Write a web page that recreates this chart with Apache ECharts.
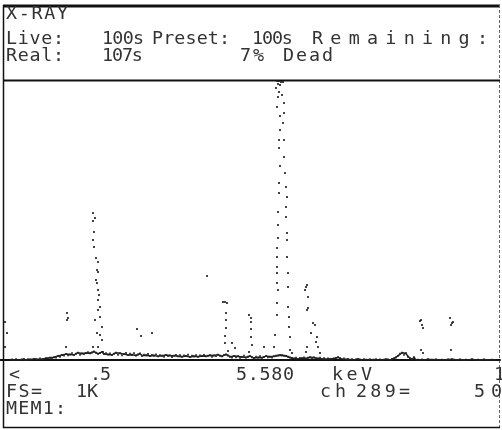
<!DOCTYPE html>
<html>
<head>
<meta charset="utf-8">
<title>X-RAY spectrum</title>
<script src="https://cdn.jsdelivr.net/npm/echarts@6/dist/echarts.min.js"></script>
<style>
  html, body { margin: 0; padding: 0; background: #ffffff; }
  #chart { width: 502px; height: 430px; }
</style>
</head>
<body>
<div id="chart"></div>
<script>
// ---- Spectrum data (channel, counts); full scale is 1K counts ----
const fullScale = 1000;

// Continuum counts, one value every 2nd channel from channel 10
const bgFirstChannel = 10;
const bgStep = 2;
const background = [
  0, 2, 0, 3, 0, 0, 2, 4, 0, 3, 2, 0, 4, 3, 2, 5, 3, 4, 6, 5,
  8, 6, 10, 9, 14, 12, 18, 16, 21, 17, 20, 24, 18, 22, 26, 19, 23, 21, 25, 28,
  24, 27, 30, 26, 22, 25, 29, 21, 24, 20, 23, 18, 22, 26, 19, 24, 17, 21, 25, 18,
  22, 19, 24, 16, 20, 23, 15, 19, 17, 21, 14, 18, 16, 20, 13, 17, 15, 12, 18, 14,
  16, 11, 15, 18, 13, 17, 12, 16, 14, 19, 11, 15, 13, 17, 12, 16, 14, 18, 13, 15,
  17, 12, 16, 14, 19, 15, 13, 18, 20, 16, 12, 9, 14, 10, 13, 8, 11, 15, 9, 12,
  14, 10, 7, 12, 9, 13, 8, 11, 14, 10, 12, 9, 13, 15, 16, 18, 17, 15, 14, 12,
  9, 7, 5, 8, 4, 7, 6, 9, 5, 8, 10, 7, 9, 6, 5, 8, 4, 6, 3, 5,
  4, 2, 5, 7, 10, 6, 3, 5, 2, 4, 1, 3, 0, 2, 4, 1, 0, 3, 1, 0,
  2, 0, 1, 3, 0, 2, 0, 1, 3, 2, 0, 4, 6, 9, 15, 22, 26, 19, 24, 12,
  5, 2, 10, 0, 1, 0, 2, 0, 0, 3, 0, 1, 0, 2, 0, 0, 1, 0, 0, 2,
  0, 3, 1, 0, 0, 2, 0, 0, 1, 0, 0, 3, 0, 0, 1, 0, 0, 2, 0, 0,
  0, 1, 0, 0
];

// Peaks, as [channel, counts]
const lowEdge = [[5, 136], [7, 96], [5, 46]];
const peak67 = [[66, 46], [67, 168], [68, 150], [67, 143]];
const peak96 = [
  [93, 525], [95, 507], [93, 496], [94, 457], [93, 429], [94, 404], [96, 364],
  [98, 350], [97, 321], [98, 314], [96, 286], [97, 275], [98, 250], [99, 232],
  [98, 214], [100, 189], [98, 179], [100, 154], [95, 143], [102, 118], [97, 96],
  [100, 89], [102, 71], [98, 46], [93, 46], [103, 29]
];
const peak140 = [[137, 111], [141, 86], [152, 96]];
const peak226 = [
  [207, 300], [223, 207], [225, 207], [227, 204], [226, 168], [226, 143],
  [226, 114], [225, 86], [225, 61], [232, 61], [228, 32], [235, 43]
];
const peak250 = [[249, 161], [251, 150], [251, 136], [251, 111], [251, 82], [252, 54], [249, 29], [264, 46]];
const peak280 = [
  [277, 996], [279, 996], [281, 993], [283, 993], [278, 986], [280, 982], [276, 971],
  [279, 957], [282, 946], [278, 939],
  [277, 904], [280, 871], [280, 821], [279, 786], [279, 757], [280, 693], [279, 632],
  [279, 596], [278, 529], [278, 482], [278, 436], [277, 400], [277, 368], [277, 332],
  [277, 311], [277, 275], [278, 250], [277, 204], [277, 161], [275, 89], [274, 46],
  [284, 918], [284, 882], [283, 846], [284, 786], [284, 725], [285, 668], [286, 618],
  [287, 582], [286, 546], [286, 511], [287, 454], [287, 429], [287, 368], [288, 311],
  [288, 261], [288, 189], [289, 154], [289, 118], [290, 82], [290, 36], [292, 25]
];
const peak307 = [
  [305, 250], [306, 261], [307, 268], [308, 225], [308, 186], [307, 179], [313, 132],
  [315, 125], [311, 96], [317, 82], [316, 64], [318, 46], [307, 46], [306, 29], [320, 25]
];
const peak421 = [[421, 143], [420, 139], [422, 125], [423, 114], [421, 36], [423, 25]];
const peak452 = [[450, 150], [452, 132], [453, 136], [451, 125], [451, 36]];

// ---- Readout text ----
const headerTitle = 'X-RAY';
const liveRow = ['Live:', '100s', 'Preset:', '100s', 'Remaining:'];
const realRow = ['Real:', '107s', '7%', 'Dead'];
const cursorRow = ['<', '.5', '5.580', 'keV', '10'];
const scaleRow = ['FS=', '1K', 'ch', '289=', '50'];
const memRow = ['MEM1:'];

// ---- Build the series ----
const continuum = background.map((c, i) => [bgFirstChannel + i * bgStep, c]);
const dots = continuum.concat(lowEdge, peak67, peak96, peak140, peak226,
  peak250, peak280, peak307, peak421, peak452);

// ---- Terminal-style text: one glyph per cell, spread over a given width ----
const FONT = '17px "DejaVu Sans Mono"';
const GLYPH_SCALE = 1.08;
const measureCtx = document.createElement('canvas').getContext('2d');
measureCtx.font = FONT;
const glyphW = measureCtx.measureText('M').width * GLYPH_SCALE;

function label(text, left, top, width) {
  const n = text.length;
  const step = n > 1 ? Math.max(glyphW * 0.9, (width - glyphW) / (n - 1)) : 0;
  const children = [];
  for (let i = 0; i < n; i++) {
    const ch = text[i];
    if (ch === ' ') continue;
    children.push({
      type: 'text',
      x: left + i * step, y: top,
      originX: 0, originY: 0,
      scaleX: GLYPH_SCALE,
      silent: true,
      style: { text: ch, x: 0, y: 0, font: FONT, fill: '#333333', verticalAlign: 'top', align: 'left' }
    });
  }
  return { type: 'group', silent: true, children: children };
}
function hline(y, x1, x2, w, color, dash) {
  return { type: 'line', silent: true,
    shape: { x1: x1, y1: y, x2: x2, y2: y },
    style: { stroke: color || '#111', lineWidth: w, lineDash: dash || null } };
}
function vline(x, y1, y2, w, color, dash) {
  return { type: 'line', silent: true,
    shape: { x1: x, y1: y1, x2: x, y2: y2 },
    style: { stroke: color || '#111', lineWidth: w, lineDash: dash || null } };
}

const graphics = [
  // frame
  hline(6, 3, 500, 3),
  vline(3.5, 5, 428, 1.5),
  vline(499.5, 5, 428, 1, '#666', [3, 2]),
  hline(80.5, 3, 500, 2),
  hline(427.5, 3, 500, 1.5),
  // header
  label(headerTitle, 6, 6, 62),
  label(liveRow[0], 6, 31, 58),
  label(liveRow[1], 102, 31, 42),
  label(liveRow[2], 152, 31, 78),
  label(liveRow[3], 252, 31, 40),
  label(liveRow[4], 312, 31, 176),
  label(realRow[0], 6, 48, 58),
  label(realRow[1], 102, 48, 40),
  label(realRow[2], 240, 48, 24),
  label(realRow[3], 283, 48, 50),
  // readout under the spectrum
  label(cursorRow[0], 9, 367, 10),
  label(cursorRow[1], 90, 367, 20),
  label(cursorRow[2], 236, 367, 58),
  label(cursorRow[3], 332, 367, 40),
  label(cursorRow[4], 494, 367, 26),
  label(scaleRow[0], 6, 384, 36),
  label(scaleRow[1], 76, 384, 22),
  label(scaleRow[2], 320, 384, 26),
  label(scaleRow[3], 356, 384, 54),
  label(scaleRow[4], 474, 384, 28),
  label(memRow[0], 6, 401, 60)
];

const chart = echarts.init(document.getElementById('chart'), null, { renderer: 'canvas' });
chart.setOption({
  animation: false,
  backgroundColor: '#ffffff',
  grid: { left: 0, right: 2, top: 80, bottom: 70 },
  xAxis: {
    type: 'value', min: 0, max: 500,
    axisLine: { show: true, onZero: false, lineStyle: { color: '#111', width: 2 } },
    axisTick: { show: false }, axisLabel: { show: false }, splitLine: { show: false }
  },
  yAxis: {
    type: 'value', min: 0, max: fullScale,
    axisLine: { show: false }, axisTick: { show: false },
    axisLabel: { show: false }, splitLine: { show: false }
  },
  series: [
    {
      // continuum trace
      type: 'line',
      data: continuum,
      showSymbol: false,
      clip: true,
      lineStyle: { color: '#222', width: 1.5 },
      silent: true
    },
    {
      type: 'scatter',
      data: dots,
      symbol: 'rect',
      symbolSize: 2,
      clip: true,
      itemStyle: { color: '#151515' },
      silent: true
    }
  ],
  graphic: graphics
});
</script>
</body>
</html>
